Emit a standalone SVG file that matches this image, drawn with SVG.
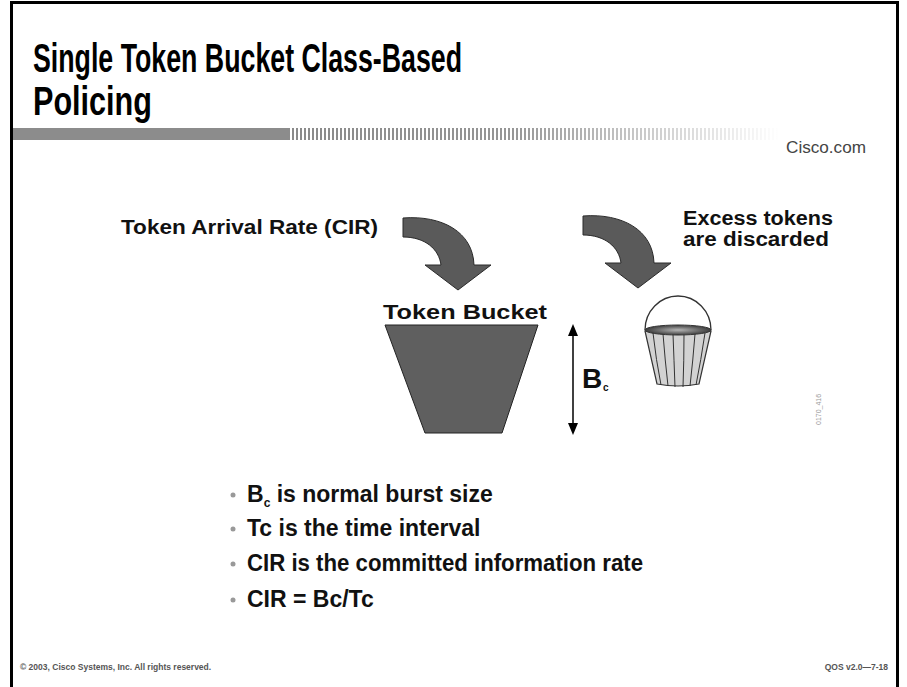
<svg xmlns="http://www.w3.org/2000/svg" width="907" height="687" viewBox="0 0 907 687">
  <defs>
    <style>
      .title { font-family: "Liberation Sans", Arial, sans-serif; font-weight: bold; font-size: 41px; fill: #000; }
      .lbl { font-family: "Liberation Sans", Arial, sans-serif; font-weight: bold; fill: #111; }
      .bullet { font-family: "Liberation Sans", Arial, sans-serif; font-weight: bold; font-size: 23px; fill: #111; }
      .dot { fill: #999; }
      .foot { font-family: "Liberation Sans", Arial, sans-serif; font-weight: bold; font-size: 8.5px; fill: #555; }
      .flow { fill: #5a5a5a; stroke: #2a2a2a; stroke-width: 1; stroke-linejoin: round; }
    </style>
    <pattern id="stripes" x="0" y="0" width="4" height="12" patternUnits="userSpaceOnUse">
      <rect x="0" y="0" width="4" height="12" fill="#fff"/>
      <rect x="0" y="0" width="2" height="12" fill="#8a8a8a"/>
    </pattern>
    <linearGradient id="fade" x1="0" y1="0" x2="1" y2="0">
      <stop offset="0" stop-color="#fff" stop-opacity="0"/>
      <stop offset="0.45" stop-color="#fff" stop-opacity="0.1"/>
      <stop offset="1" stop-color="#fff" stop-opacity="1"/>
    </linearGradient>
    <radialGradient id="rim" cx="0.5" cy="0.5" r="0.5">
      <stop offset="0" stop-color="#b5b5b5"/>
      <stop offset="1" stop-color="#3c3c3c"/>
    </radialGradient>
  </defs>

  <rect width="907" height="687" fill="#fff"/>
  <!-- slide frame -->
  <path d="M11.5,700 V2.5 H897.5 V700" fill="none" stroke="#000" stroke-width="3"/>

  <!-- title -->
  <text class="title" x="33" y="72" textLength="429" lengthAdjust="spacingAndGlyphs">Single Token Bucket Class-Based</text>
  <text class="title" x="33" y="115" textLength="119" lengthAdjust="spacingAndGlyphs">Policing</text>

  <!-- header band -->
  <rect x="13" y="128" width="280" height="12" fill="#8c8c8c"/>
  <rect x="290" y="128" width="490" height="12" fill="url(#stripes)"/>
  <rect x="290" y="128" width="490" height="12" fill="url(#fade)"/>
  <text x="866" y="153" text-anchor="end" font-family="'Liberation Sans', Arial, sans-serif" font-size="17" fill="#444" textLength="80" lengthAdjust="spacingAndGlyphs">Cisco.com</text>

  <!-- labels -->
  <g id="arrival-label">
    <text class="lbl" x="121" y="234" font-size="21" textLength="257" lengthAdjust="spacingAndGlyphs">Token Arrival Rate (CIR)</text>
  </g>
  <g id="excess-label">
    <text class="lbl" x="683" y="225" font-size="20" textLength="150" lengthAdjust="spacingAndGlyphs">Excess tokens</text>
    <text class="lbl" x="683" y="246" font-size="20" textLength="146" lengthAdjust="spacingAndGlyphs">are discarded</text>
  </g>

  <!-- token bucket -->
  <g id="token-bucket">
    <text class="lbl" x="383" y="319" font-size="21" textLength="164" lengthAdjust="spacingAndGlyphs">Token Bucket</text>
    <path d="M385,325 L538,325 L502,433 L425,433 Z" fill="#5f5f5f" stroke="#222" stroke-width="1"/>
  </g>

  <!-- Bc dimension -->
  <g id="bc-size">
    <line x1="573" y1="334" x2="573" y2="424" stroke="#000" stroke-width="1.5"/>
    <path d="M573,324 L568,336 L578,336 Z" fill="#000"/>
    <path d="M573,435 L568,423 L578,423 Z" fill="#000"/>
    <text class="lbl" x="582" y="388" font-size="28" fill="#000">B</text>
    <text class="lbl" x="603" y="391" font-size="10" fill="#000">c</text>
  </g>

  <!-- overflow pail -->
  <g id="pail">
    <path d="M645,330 A33,34 0 0 1 711,330" fill="none" stroke="#333" stroke-width="1.3"/>
    <path d="M645,331 L711,331 L699,384 Q678,388 657,384 Z" fill="#d2d2d2" stroke="#333" stroke-width="1.2"/>
    <g fill="none" stroke="#333" stroke-width="1">
      <path d="M653,333 Q656,360 661,385"/>
      <path d="M663,334 Q665,360 668,386"/>
      <path d="M673,334 Q674,360 675,387"/>
      <path d="M684,334 Q684,360 683,387"/>
      <path d="M695,334 Q693,360 690,386"/>
      <path d="M705,333 Q701,360 696,385"/>
    </g>
    <ellipse cx="678" cy="330" rx="33" ry="5" fill="url(#rim)" stroke="#333" stroke-width="1"/>
  </g>

  <!-- connectors: curved flow arrows -->
  <g id="connectors">
    <path id="arrival-arrow" class="flow" d="M403,218 C442,215 473,232 474,265 L491,265 L458,290 L425,265 L441,265 C439,249 425,237 403,237 Z"/>
    <path id="discard-arrow" class="flow" transform="translate(180,-2)" d="M403,218 C442,215 473,232 474,265 L491,265 L458,290 L425,265 L441,265 C439,249 425,237 403,237 Z"/>
  </g>

  <text x="0" y="0" transform="translate(821,425) rotate(-90)" font-family="'Liberation Sans', Arial, sans-serif" font-size="7" fill="#999">0170_416</text>

  <!-- bullet list -->
  <g id="bullets">
    <circle class="dot" cx="233" cy="495" r="2.5"/>
    <text class="bullet" x="247" y="502">B<tspan font-size="12" dy="5">c</tspan><tspan dy="-5"> is normal burst size</tspan></text>
    <circle class="dot" cx="233" cy="529" r="2.5"/>
    <text class="bullet" x="247" y="536">Tc is the time interval</text>
    <circle class="dot" cx="233" cy="564" r="2.5"/>
    <text class="bullet" x="247" y="571" textLength="396" lengthAdjust="spacingAndGlyphs">CIR is the committed information rate</text>
    <circle class="dot" cx="233" cy="600" r="2.5"/>
    <text class="bullet" x="247" y="607">CIR = Bc/Tc</text>
  </g>

  <!-- footer -->
  <text class="foot" x="20" y="670">© 2003, Cisco Systems, Inc. All rights reserved.</text>
  <text class="foot" x="888" y="670" text-anchor="end">QOS v2.0—7-18</text>
</svg>
